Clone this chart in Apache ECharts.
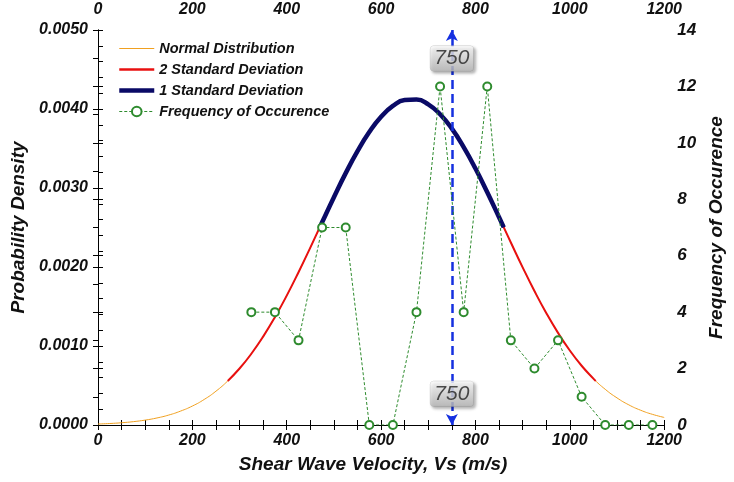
<!DOCTYPE html>
<html><head><meta charset="utf-8">
<script src="https://cdn.jsdelivr.net/npm/echarts@6/dist/echarts.min.js"></script>
<style>html,body{margin:0;padding:0;background:#fff}#c{width:734px;height:482px}</style>
</head><body><div id="c"></div>
<script>
// Shear wave velocity sample points (m/s) and probability density
const velocity = [0,25,50,75,100,125,150,175,200,225,250,275,300,325,350,375,400,425,450,475,500,525,550,575,600,625,650,675,700,725,750,775,800,825,850,875,900,925,950,975,1000,1025,1050,1075,1100,1125,1150,1175,1200];
const density = [0.0000123,0.0000189,0.0000285,0.0000424,0.0000620,0.0000892,0.000126,0.000176,0.000240,0.000323,0.000428,0.000558,0.000715,0.000902,0.001119,0.001365,0.001638,0.001934,0.002246,0.002566,0.002884,0.003188,0.003467,0.003708,0.003902,0.004039,0.004113,0.004120,0.004059,0.003934,0.003751,0.003518,0.003246,0.002946,0.002630,0.002310,0.001996,0.001696,0.001418,0.001166,0.000943,0.000750,0.000587,0.000452,0.000343,0.000255,0.000187,0.000135,0.0000957];
// band limits (m/s) and density at the limits
const twoSDRange = [275, 1055];
const twoSDEdgeDensity = 0.000558;
const oneSDRange = [470, 860];
const oneSDEdgeDensity = 0.002502;
// frequency of occurrence
const freqVelocity = [325,375,425,475,525,575,625,675,725,775,825,875,925,975,1025,1075,1125,1175];
const freqCount = [4,4,3,7,7,0,0,4,12,4,12,3,2,3,1,0,0,0];
// marker
const markerVs = 750;
const markerLabelDensity = [0.00464, 0.000395];
// axis ticks
const xTicks = [0, 1200, 200];
const yLeftTicks = [0, 0.005, 0.001];
const yRightTicks = [0, 14, 2];

function band(range, edge) {
  const pts = [[range[0], edge]];
  velocity.forEach((v, i) => { if (v > range[0] && v < range[1]) pts.push([v, density[i]]); });
  pts.push([range[1], edge]);
  return pts;
}
const normalPts = velocity.map((v, i) => [v, density[i]]);
const twoSDPts = band(twoSDRange, twoSDEdgeDensity);
const oneSDPts = band(oneSDRange, oneSDEdgeDensity);
const freqPts = freqVelocity.map((v, i) => [v, freqCount[i]]);

const FONT = 'Liberation Sans';
const lbl = {fontFamily: FONT, fontWeight: 'bold', fontStyle: 'italic', fontSize: 16, color: '#111'};
const axLine = {show: true, lineStyle: {color: '#000', width: 1}};
const titleStyle = {fontFamily: FONT, fontWeight: 'bold', fontStyle: 'italic', fontSize: 19, color: '#111'};

function xAx(pos, labels) {
  return {
    type: 'value', position: pos, min: xTicks[0], max: xTicks[1], interval: xTicks[2],
    splitLine: {show: false},
    axisLine: labels ? axLine : {show: false},
    axisTick: labels ? {show: true, inside: false, length: 5, lineStyle: {color: '#000'}} : {show: true, inside: true, length: 5, lineStyle: {color: '#000'}},
    minorTick: {show: !labels, splitNumber: 4, length: 5, lineStyle: {color: '#000'}},
    axisLabel: labels ? Object.assign({show: true, margin: pos === 'top' ? 12 : 8, formatter: v => String(v)}, lbl) : {show: false}
  };
}
function yAx(pos, labels, t, minorN, fmt) {
  return {
    type: 'value', position: pos, min: t[0], max: t[1], interval: t[2],
    splitLine: {show: false},
    axisLine: labels ? axLine : {show: false},
    axisTick: labels ? {show: true, inside: false, length: 5, lineStyle: {color: '#000'}} : {show: true, inside: true, length: 5, lineStyle: {color: '#000'}},
    minorTick: {show: !labels, splitNumber: minorN, length: 5, lineStyle: {color: '#000'}},
    axisLabel: labels ? Object.assign({show: true, margin: pos === 'left' ? 10 : 13, formatter: fmt}, lbl, {fontSize: pos === 'left' ? 16 : 17}) : {show: false}
  };
}

const xAxes = [xAx('bottom', true), xAx('top', true), xAx('bottom', false), xAx('top', false)];
Object.assign(xAxes[0], {name: 'Shear Wave Velocity, Vs (m/s)', nameLocation: 'middle', nameGap: 30,
  nameTextStyle: Object.assign({padding: [0, 16, 0, 0]}, titleStyle)});
const yAxes = [
  yAx('left', true, yLeftTicks, 5, v => v.toFixed(4)),
  yAx('right', true, yRightTicks, 2, v => String(v)),
  yAx('left', false, yLeftTicks, 5),
  yAx('right', false, yRightTicks, 2)
];
Object.assign(yAxes[0], {name: 'Probability Density', nameLocation: 'middle', nameGap: 69, nameRotate: 90, nameTextStyle: titleStyle});
Object.assign(yAxes[1], {name: 'Frequency of Occurence', nameLocation: 'middle', nameGap: 35, nameRotate: 90, nameTextStyle: titleStyle});

const hideSym = {opacity: 0};
const chart = echarts.init(document.getElementById('c'), null, {renderer: 'canvas'});
chart.setOption({
  animation: false,
  backgroundColor: '#fff',
  grid: {left: 98, right: 64, top: 30, bottom: 57},
  legend: {
    data: [
      {name: 'Normal Distribution', itemStyle: hideSym, lineStyle: {width: 1}},
      {name: '2 Standard Deviation', itemStyle: hideSym, lineStyle: {width: 2.5}},
      {name: '1 Standard Deviation', itemStyle: hideSym, lineStyle: {width: 4.5}},
      {name: 'Frequency of Occurence', lineStyle: {width: 1}}
    ],
    orient: 'vertical', left: 112, top: 36, itemWidth: 35, itemHeight: 12, itemGap: 6,
    textStyle: {fontFamily: FONT, fontWeight: 'bold', fontStyle: 'italic', fontSize: 14.5, color: '#111'}
  },
  xAxis: xAxes,
  yAxis: yAxes,
  series: [
    {name: 'Normal Distribution', type: 'line', data: normalPts, symbol: 'none', smooth: true,
     lineStyle: {color: '#f0a020', width: 1}, itemStyle: {color: '#f0a020'}, z: 2},
    {name: '2 Standard Deviation', type: 'line', data: twoSDPts, symbol: 'none', smooth: true,
     lineStyle: {color: '#e81010', width: 2}, itemStyle: {color: '#e81010'}, z: 3},
    {name: '1 Standard Deviation', type: 'line', data: oneSDPts, symbol: 'none', smooth: true,
     lineStyle: {color: '#0a0a66', width: 4.5}, itemStyle: {color: '#0a0a66'}, z: 4},
    {name: 'Frequency of Occurence', type: 'line', yAxisIndex: 1, data: freqPts, symbol: 'emptyCircle', symbolSize: 8,
     lineStyle: {color: '#2e8b2e', width: 1, type: [3, 2]}, itemStyle: {color: '#2e8b2e', borderWidth: 1}, z: 5},
    {name: 'marker', type: 'line', data: [], z: 6,
     markLine: {silent: true, symbol: ['arrow', 'arrow'], symbolSize: [9, 11], label: {show: false},
       lineStyle: {color: '#1530e0', width: 2.5, type: [9, 5]},
       data: [{xAxis: markerVs}]}},
    {name: 'markerLabel', type: 'scatter', data: markerLabelDensity.map(d => [markerVs, d]), symbolSize: 0, z: 10,
     label: {show: true, position: 'inside', formatter: p => String(p.value[0]),
       fontFamily: FONT, fontStyle: 'italic', fontSize: 21, color: '#222',
       padding: [3, 4, 1, 4], borderRadius: 3, borderColor: '#c8c8c8', borderWidth: 0.5,
       backgroundColor: {type: 'linear', x: 0, y: 0, x2: 0, y2: 1, colorStops: [{offset: 0, color: '#fdfdfd'}, {offset: 1, color: '#b8b8b8'}]},
       shadowColor: 'rgba(0,0,0,0.35)', shadowBlur: 3, shadowOffsetX: 2, shadowOffsetY: 2}}
  ]
});
</script></body></html>
